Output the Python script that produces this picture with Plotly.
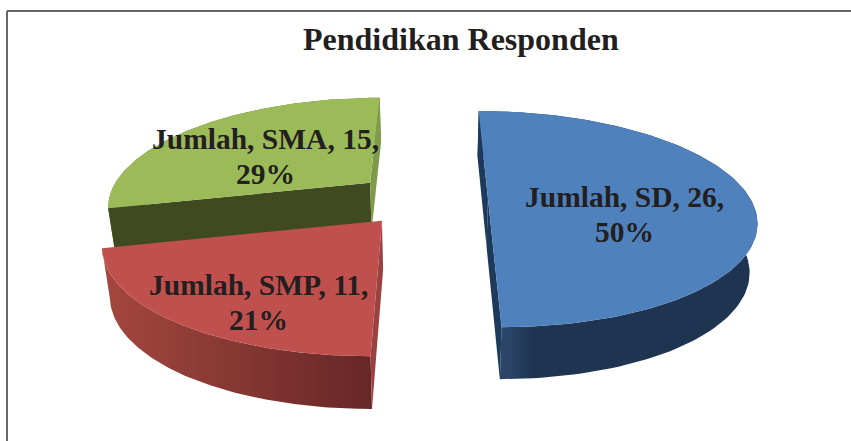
import numpy as np
import plotly.graph_objects as go

# --- data
categories = ["SD", "SMP", "SMA"]
values = [26, 11, 15]
percents = ["50%", "21%", "29%"]
series_name = "Jumlah"
title = "Pendidikan Responden"

# --- 3D pie view (style, not data)
CX, CY, A, B, K = 430.0, 198.0, 262.0, 104.0, 0.19
BOTTOM_XS, BOTTOM_YS, BOTTOM_DY = 0.976, 1.0275, 48.4
START = 0.0
EXPLODE = {"SD": (0.221, -0.005), "SMP": (-0.176, -0.21), "SMA": (-0.235, 0.15)}
RADIUS_Y = {"SD": 1.0, "SMP": 0.97, "SMA": 1.03}
TOP = {"SD": "#4f81bd", "SMP": "#c0504d", "SMA": "#9bbb59"}
FACE_A = {"SD": "#1d3a5c", "SMP": "#9a4240", "SMA": "#3f4a20"}   # face at slice start
FACE_B = {"SD": "#1d3a5c", "SMP": None, "SMA": "#7f9a48"}        # face at slice end
WALL = {"SD": [[0, "#2e4d72"], [0.12, "#2a4466"], [0.2, "#1e3450"], [1, "#1e3450"]],
        "SMP": [[0, "#a5473f"], [1, "#662726"]],
        "SMA": [[0, "#5e7135"], [1, "#5e7135"]]}
LABEL_POS = {"SD": (624, 214.5), "SMP": (258, 302), "SMA": (265, 156.5)}
LINE_GAP = 35
TEXT = "#231f20"


def project(X, Y, bottom=False):
    s = 1.0 / (1.0 + K * Y)
    if bottom:
        return CX + A * X * s * BOTTOM_XS, CY - B * Y * s * BOTTOM_YS + BOTTOM_DY
    return CX + A * X * s, CY - B * Y * s


def poly(xs, ys, color=None, gradient=None):
    kw = dict(x=list(xs), y=list(ys), mode="lines", fill="toself", line=dict(width=0),
              hoverinfo="skip", showlegend=False)
    if gradient:
        kw["fillgradient"] = dict(type="horizontal", colorscale=gradient)
    else:
        kw["fillcolor"] = color
    return go.Scatter(**kw)


fig = go.Figure()
total = sum(values)
angles = np.radians(START + np.cumsum([0] + values) / total * 360.0)
spans = {c: (angles[i], angles[i + 1]) for i, c in enumerate(categories)}

for cat in ["SMA", "SMP", "SD"]:
    t0, t1 = spans[cat]
    dx, dy = EXPLODE[cat]
    ry = RADIUS_Y[cat]
    th = np.linspace(t0, t1, 120)
    X, Y = dx + np.sin(th), dy + ry * np.cos(th)
    xt, yt = project(X, Y)
    xb, yb = project(X, Y, bottom=True)
    # wall
    fig.add_trace(poly(np.r_[xt, xb[::-1]], np.r_[yt, yb[::-1]], gradient=WALL[cat]))
    # radial faces
    for t, col in ((t0, FACE_A[cat]), (t1, FACE_B[cat])):
        if col is None:
            continue
        px = np.array([dx, dx + np.sin(t)])
        py = np.array([dy, dy + ry * np.cos(t)])
        a, b = project(px, py)
        c, d = project(px, py, bottom=True)
        fig.add_trace(poly(np.r_[a, c[::-1]], np.r_[b, d[::-1]], color=col))
    # top
    ax, ay = project(dx, dy)
    fig.add_trace(poly(np.r_[ax, xt], np.r_[ay, yt], color=TOP[cat]))

label_font = dict(family="Liberation Serif", size=29.5, color=TEXT, weight="bold")
for cat, val, pct in zip(categories, values, percents):
    lx, ly = LABEL_POS[cat]
    fig.add_annotation(x=lx, y=ly - LINE_GAP / 2, xref="x", yref="y", showarrow=False,
                       text=f"{series_name}, {cat}, {val},", font=label_font)
    fig.add_annotation(x=lx, y=ly + LINE_GAP / 2, xref="x", yref="y", showarrow=False,
                       text=pct, font=label_font)

fig.add_annotation(x=461, y=39, xref="x", yref="y", showarrow=False, text=title,
                   font=dict(family="Liberation Serif", size=32, color=TEXT, weight="bold"))

frame = dict(color="#666666", width=2)
fig.add_shape(type="line", x0=7, x1=7, y0=11, y1=441, xref="x", yref="y", line=frame)
fig.add_shape(type="line", x0=7, x1=851, y0=11, y1=11, xref="x", yref="y", line=frame)

fig.update_layout(width=851, height=441, margin=dict(l=0, r=0, t=0, b=0),
                  paper_bgcolor="white", plot_bgcolor="white", showlegend=False,
                  xaxis=dict(range=[0, 851], visible=False, fixedrange=True),
                  yaxis=dict(range=[441, 0], visible=False, fixedrange=True))
fig.write_html("out.html", config=dict(displayModeBar=False),
               post_script="document.body.style.margin='0';document.documentElement.style.overflow='hidden';")
